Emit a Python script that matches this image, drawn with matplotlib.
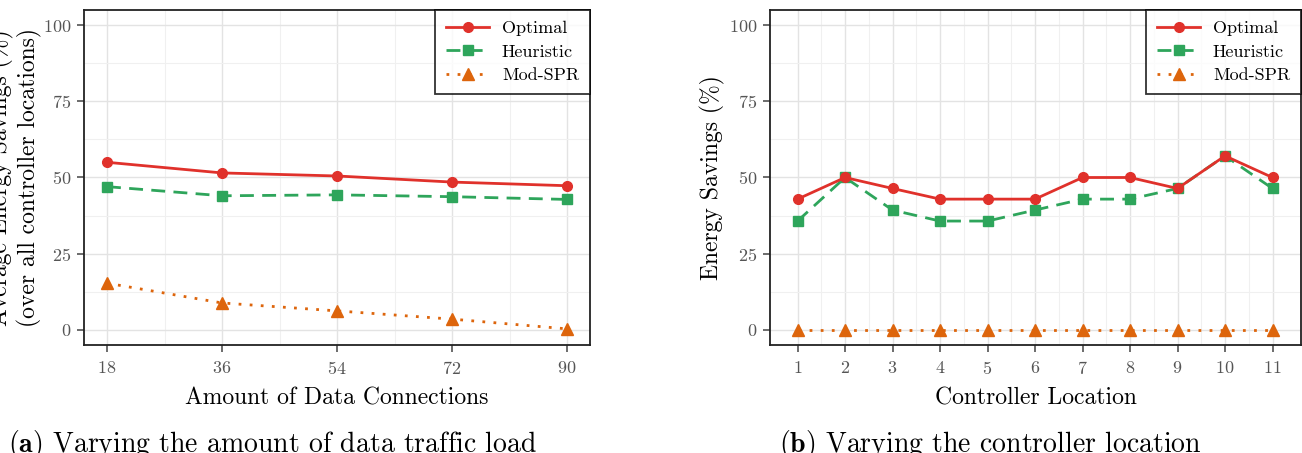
import matplotlib.pyplot as plt
import numpy as np

plt.rcParams['font.family'] = ['cmr10', 'DejaVu Serif']
plt.rcParams['mathtext.fontset'] = 'cm'
plt.rcParams['axes.formatter.use_mathtext'] = True

# data - panel (a)
connections = [18, 36, 54, 72, 90]
optimal_a = [55.0, 51.5, 50.5, 48.5, 47.3]
heuristic_a = [47.0, 44.0, 44.3, 43.7, 42.8]
modspr_a = [15.3, 8.8, 6.2, 3.5, 0.3]

# data - panel (b)
locations = [1, 2, 3, 4, 5, 6, 7, 8, 9, 10, 11]
optimal_b = [42.9, 50.0, 46.4, 42.9, 42.9, 42.9, 50.0, 50.0, 46.4, 57.1, 50.0]
heuristic_b = [35.7, 50.0, 39.3, 35.7, 35.7, 39.3, 42.9, 42.9, 46.4, 57.1, 46.4]
modspr_b = [0, 0, 0, 0, 0, 0, 0, 0, 0, 0, 0]

c_red = '#E0312B'
c_green = '#2EA55B'
c_orange = '#DD650C'

W, H = 1302, 453
fig = plt.figure(figsize=(W / 100, H / 100), dpi=100)
ax1 = fig.add_axes([84 / W, 108 / H, 506 / W, 335 / H])
ax2 = fig.add_axes([770 / W, 108 / H, 531 / W, 335 / H])


def style(ax, x, opt, heu, mod, xlim, minor_x):
    ax.plot(x, opt, color=c_red, lw=2, marker='o', ms=7, label='Optimal', zorder=5)
    ax.plot(x, heu, color=c_green, lw=2, ls=(0, (5, 3)), marker='s', ms=7,
            label='Heuristic', zorder=4)
    ax.plot(x, mod, color=c_orange, lw=2, ls=(0, (1, 3)), marker='^', ms=8,
            label='Mod-SPR', zorder=3)
    ax.set_xlim(*xlim)
    ax.set_ylim(-5, 105)
    ax.set_xticks(x)
    ax.set_yticks([0, 25, 50, 75, 100])
    ax.set_yticks([12.5, 37.5, 62.5, 87.5], minor=True)
    ax.set_xticks(minor_x, minor=True)
    ax.grid(which='major', color='#e3e3e3', lw=1.0)
    ax.grid(which='minor', color='#f0f0f0', lw=0.8)
    ax.set_axisbelow(True)
    ax.tick_params(which='major', direction='out', length=5, width=1.1,
                   color='#444444', labelcolor='#555555', labelsize=13, pad=4)
    ax.tick_params(axis='x', pad=6)
    ax.tick_params(which='minor', length=0)
    for s in ax.spines.values():
        s.set_color('#222222')
        s.set_linewidth(1.3)
    leg = ax.legend(loc='upper right', borderaxespad=0, fancybox=False,
                    edgecolor='black', fontsize=13, handlelength=2.4,
                    handletextpad=0.7, borderpad=0.6, labelspacing=0.42)
    leg.get_frame().set_linewidth(1.3)


style(ax1, connections, optimal_a, heuristic_a, modspr_a, (14.4, 93.6),
      [27, 45, 63, 81])
style(ax2, locations, optimal_b, heuristic_b, modspr_b, (0.42, 11.6),
      [1.5, 2.5, 3.5, 4.5, 5.5, 6.5, 7.5, 8.5, 9.5, 10.5])

ax1.set_xlabel('Amount of Data Connections', fontsize=17, labelpad=7)
ax1.set_ylabel('Average Energy Savings (%)\n(over all controller locations)',
               fontsize=17, labelpad=1, linespacing=1.15)
ax2.set_xlabel('Controller Location', fontsize=17, labelpad=7)
ax2.set_ylabel('Energy Savings (%)', fontsize=17, labelpad=3)

fig.text(8 / W, 1 - 428 / H, r'$\mathbf{(a)}$ Varying the amount of data traffic load',
         fontsize=20, va='top')
fig.text(779 / W, 1 - 428 / H, r'$\mathbf{(b)}$ Varying the controller location',
         fontsize=20, va='top')

fig.savefig('out.png', dpi=100)
